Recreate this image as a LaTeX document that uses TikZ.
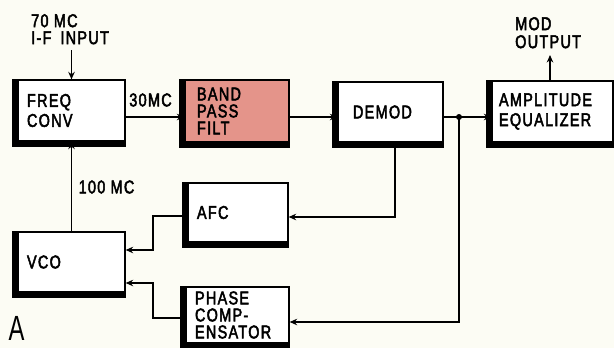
\documentclass[tikz,border=0pt]{standalone}
\usepackage{fontspec}
\setmainfont{Liberation Sans}[FakeStretch=0.78,LetterSpace=7,FakeBold=2.5]
\newfontfamily\tagfont{Liberation Sans}[FakeStretch=0.68]
\usetikzlibrary{arrows.meta,positioning}
\definecolor{paper}{RGB}{252,252,244}
\definecolor{filtred}{RGB}{228,148,138}
\pgfdeclarelayer{bg}
\pgfdeclarelayer{shade}
\pgfsetlayers{bg,shade,main}

\tikzset{
  blk/.style={draw,fill=white,line width=1.3pt,align=left,inner ysep=0pt},
  arr/.style={line width=1.3pt,-{Stealth[length=7.5pt,width=6.5pt]}},
  wire/.style={line width=1.3pt},
  lbl/.style={inner sep=0pt,align=left,font=\fontsize{18.5}{17}\selectfont}
}

\begin{document}
\begin{tikzpicture}[x=1pt,y=-1pt,font=\fontsize{18.5}{17}\selectfont]
\useasboundingbox (0,0) rectangle (614,348);
\begin{pgfonlayer}{bg}
  \fill[paper] (0,0) rectangle (614,348);
\end{pgfonlayer}

% blocks
\node[blk,minimum width=107pt,minimum height=61pt,inner xsep=9pt,text width=89pt] (fc) at (71.5,110.5) {FREQ\\[3pt]CONV};
\node[blk,fill=filtred,minimum width=104pt,minimum height=62pt,inner xsep=12pt,text width=80pt] (bpf) at (237,111) {BAND\\PASS\\FILT};
\node[blk,minimum width=105pt,minimum height=60pt,inner xsep=15pt,text width=75pt] (demod) at (390.5,112) {DEMOD};
\node[blk,minimum width=121pt,minimum height=61pt,inner xsep=7pt,text width=107pt] (amp) at (552.5,111.5) {AMPLITUDE\\[3pt]EQUALIZER};
\node[blk,minimum width=100pt,minimum height=59pt,inner xsep=9pt,text width=82pt] (afc) at (238,212.5) {AFC};
\node[blk,minimum width=107pt,minimum height=60pt,inner xsep=9pt,text width=89pt] (vco) at (71.5,262) {VCO};
\node[blk,minimum width=103pt,minimum height=56pt,inner xsep=9pt,text width=85pt] (pc) at (237.5,315) {PHASE\\COMP-\\ENSATOR};

\begin{pgfonlayer}{shade}
  \foreach \b in {fc,bpf,demod,amp,afc,vco,pc}
    \fill ([xshift=-5.5pt]\b.north west) rectangle ([yshift=-5.5pt]\b.south east);
\end{pgfonlayer}

% labels
\node[lbl,anchor=north west] (iflbl) at (31,14) {70 MC\\[0pt]I-F\hspace{9pt}INPUT};
\node[lbl,anchor=north west] (mlbl) at (515,17) {MOD\\[1pt]OUTPUT};
\node[lbl] (mc30) at (150.5,100) {30MC};
\node[lbl] (mc100) at (106.5,187) {100 MC};
\node[inner sep=0pt,font=\tagfont\fontsize{35}{35}\selectfont] (tagA) at (16.5,328) {A};

% signal path
\coordinate (sig) at (0,117);
\coordinate (ifin) at (71.5,50);
\coordinate (mout) at (550,55);
\coordinate (tap) at (459,117);
\draw[arr] (ifin) -- (fc.north);
\draw[arr] (fc.east |- sig) -- (bpf.west |- sig);
\draw[arr] (bpf.east |- sig) -- (demod.west |- sig);
\draw[wire] (demod.east |- sig) -- (tap);
\draw[arr] (tap) -- (amp.west |- sig);
\fill (tap) circle (3pt);
\draw[arr] (amp.north -| mout) -- (mout);

% loops back to vco
\coordinate (dn) at (395,217);
\coordinate (tdn) at (459,322);
\coordinate (k1) at (153,216);
\coordinate (k2) at (153,250);
\coordinate (k3) at (153,318);
\coordinate (k4) at (153,283);
\draw[arr] (demod.south -| dn) -- (dn) -- (afc.east |- dn);
\draw[arr] (tap) -- (tdn) -- (pc.east |- tdn);
\draw[arr] (afc.west |- k1) -- (k1) -- (k2) -- (vco.east |- k2);
\draw[arr] (pc.west |- k3) -- (k3) -- (k4) -- (vco.east |- k4);
\draw[arr] (vco.north) -- (fc.south);

\end{tikzpicture}
\end{document}
